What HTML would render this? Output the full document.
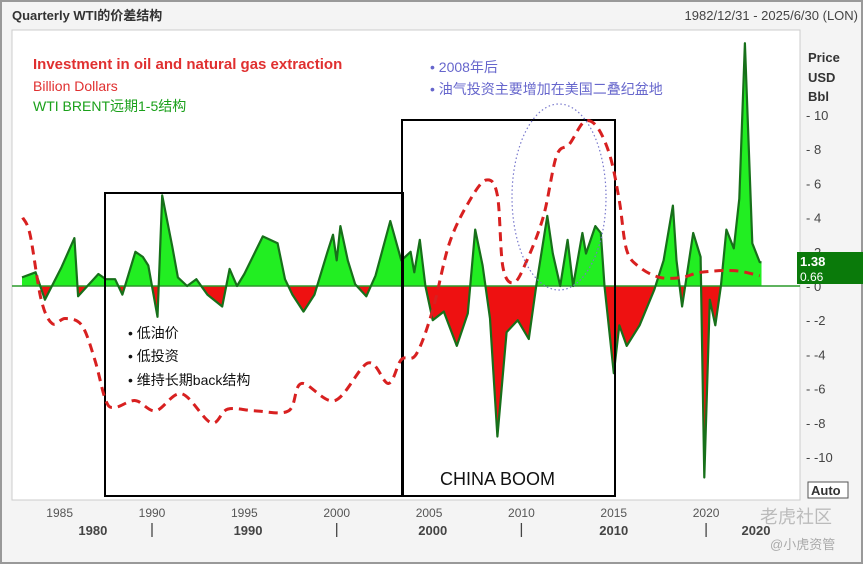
<!DOCTYPE html>
<html><head><meta charset="utf-8">
<style>
body{margin:0;background:#fff;}
svg text{font-family:"Liberation Sans","Noto Sans CJK SC",sans-serif;}
</style></head>
<body>
<svg id="chart" width="863" height="564" viewBox="0 0 863 564" xmlns="http://www.w3.org/2000/svg">
<rect x="0" y="0" width="863" height="564" fill="#f4f4f4"/>
<rect x="1" y="1" width="861" height="562" fill="none" stroke="#999" stroke-width="2"/>
<text x="12" y="20" font-size="13" font-weight="bold" fill="#333">Quarterly WTI的价差结构</text>
<text x="858" y="20" font-size="13" fill="#444" text-anchor="end">1982/12/31 - 2025/6/30 (LON)</text>
<rect x="12" y="30" width="788" height="470" fill="#fff" stroke="#ccc"/>
<g id="marks"></g>
<text x="33" y="69" font-size="15" font-weight="bold" fill="#e03030">Investment in oil and natural gas extraction</text>
<text x="33" y="91" font-size="14" fill="#e03030">Billion Dollars</text>
<text x="33" y="111" font-size="14" fill="#1aa01a">WTI BRENT远期1-5结构</text>
<text x="430" y="72" font-size="14" fill="#6666cc">•   2008年后</text>
<text x="430" y="94" font-size="14" fill="#6666cc">•   油气投资主要增加在美国二叠纪盆地</text>
<text x="128" y="338" font-size="14" fill="#111">•    低油价</text>
<text x="128" y="361" font-size="14" fill="#111">•    低投资</text>
<text x="128" y="385" font-size="14" fill="#111">•    维持长期back结构</text>
<text x="440" y="485" font-size="18" fill="#111">CHINA BOOM</text>
<text x="808" y="62" font-size="13" font-weight="bold" fill="#333">Price</text>
<text x="808" y="82" font-size="13" font-weight="bold" fill="#333">USD</text>
<text x="808" y="101" font-size="13" font-weight="bold" fill="#333">Bbl</text>
<g id="yaxis"></g>
<g id="xaxis"></g>
<rect x="797" y="252" width="66" height="32" fill="#0a7a0a"/>
<text x="800" y="266" font-size="13" font-weight="bold" fill="#fff">1.38</text>
<text x="800" y="281" font-size="12" fill="#fff">0.66</text>
<rect x="808" y="482" width="40" height="16" fill="#fff" stroke="#555"/>
<text x="811" y="495" font-size="13" font-weight="bold" fill="#333">Auto</text>
<text x="760" y="523" font-size="18" fill="#bbb">老虎社区</text>
<text x="770" y="549" font-size="13" fill="#aaa">@小虎资管</text>
</svg>
<script>
const spreadYears=[1982.96,1983.7,1984.2,1985.1,1985.8,1986.0,1986.5,1987.1,1987.5,1988.0,1988.4,1989.1,1989.5,1989.8,1990.3,1990.55,1991.1,1991.4,1991.9,1992.4,1993.0,1993.8,1994.2,1994.6,1995.0,1996.0,1996.8,1997.2,1997.6,1998.2,1998.8,1999.5,1999.8,2000.0,2000.2,2000.6,2001.0,2001.6,2002.1,2002.9,2003.5,2004.0,2004.2,2004.5,2004.8,2005.2,2005.8,2006.5,2007.1,2007.5,2007.9,2008.3,2008.7,2009.2,2009.8,2010.4,2010.8,2011.4,2011.7,2012.1,2012.5,2012.8,2013.3,2013.5,2014.0,2014.3,2014.5,2015.0,2015.3,2015.7,2016.4,2017.2,2017.7,2018.2,2018.4,2018.7,2019.3,2019.7,2019.9,2020.2,2020.5,2020.8,2021.1,2021.5,2021.8,2022.1,2022.5,2022.9,2023.0];
const spreadValues=[0.5,0.8,-0.8,1.1,2.8,-0.6,0,0.7,0.4,0.4,-0.5,2.0,1.7,1.2,-1.8,5.3,2.3,0.5,0,0.4,-0.5,-1.2,1.0,0,0.7,2.9,2.5,0.4,-0.5,-1.5,-0.5,2.0,3.0,1.5,3.5,1.5,0.1,-0.6,0.6,3.8,1.5,2.0,0.8,2.7,0,-2.0,-1.5,-3.5,-1.6,3.3,1.2,-1.9,-8.8,-2.7,-2.0,-3.1,0,4.1,1.9,0,2.7,0,3.1,1.9,3.5,3.1,0,-5.1,-2.3,-3.5,-2.3,-0.2,1.5,4.7,1.5,-1.2,3.1,1.7,-11.2,-0.8,-2.3,0,3.3,2.2,5.1,14.2,2.5,1.4,1.38];
const investYears=[1983.0,1983.4,1984.0,1984.6,1985.3,1986.2,1986.9,1987.5,1988.0,1989.1,1990.2,1991.6,1993.2,1994.1,1995.6,1997.4,1998.1,1999.9,2001.7,2002.8,2003.5,2004.3,2005.2,2006.1,2007.2,2008.1,2008.7,2009.0,2009.6,2010.3,2011.2,2011.9,2012.6,2013.4,2014.1,2014.8,2015.3,2015.7,2016.4,2017.5,2018.7,2019.7,2021.5,2022.9];
const investValues=[4.0,3.0,-0.8,-2.2,-1.9,-2.3,-4.3,-6.7,-7.1,-6.7,-7.3,-6.3,-8.0,-7.2,-7.3,-7.3,-5.7,-6.7,-4.5,-5.7,-4.3,-4.0,-1.4,2.5,5.0,6.2,5.3,1.1,0.2,1.5,4.1,7.6,8.3,9.6,9.3,7.6,5.0,2.1,1.1,0.5,0.5,0.8,0.9,0.6];
const yTicks=[10,8,6,4,2,0,-2,-4,-6,-8,-10];
const xTickYears=[1985,1990,1995,2000,2005,2010,2015,2020];
const decadeLabels=["1980","1990","2000","2010","2020"];
const decadeCenters=[1986.8,1995.2,2005.2,2015.0,2022.7];
const decadeDividers=[1990,2000,2010,2020];

const NS="http://www.w3.org/2000/svg";
const X=yr=>152+(yr-1990)*18.47;
const Y=v=>286-v*17.1;
function mk(tag,attrs,parent){const e=document.createElementNS(NS,tag);for(const k in attrs)e.setAttribute(k,attrs[k]);parent.appendChild(e);return e;}
const marks=document.getElementById('marks');
const defs=mk('defs',{},marks);
const cpA=mk('clipPath',{id:'above'},defs);mk('rect',{x:12,y:30,width:788,height:Y(0)-30},cpA);
const cpB=mk('clipPath',{id:'below'},defs);mk('rect',{x:12,y:Y(0),width:788,height:500-Y(0)},cpB);
let pts=spreadYears.map((yr,i)=>X(yr).toFixed(1)+','+Y(spreadValues[i]).toFixed(1));
const areaD='M'+X(spreadYears[0])+','+Y(0)+' L'+pts.join(' L')+' L'+X(spreadYears[spreadYears.length-1])+','+Y(0)+'Z';
const ag=mk('path',{d:areaD,fill:'#22ee22','clip-path':'url(#above)'},marks);


const ar=mk('path',{d:areaD,fill:'#ee1111','clip-path':'url(#below)'},marks);


const zl=mk('line',{x1:12,x2:800,y1:Y(0),y2:Y(0),stroke:'#2a9a2a','stroke-width':1.5},marks);


const sl=mk('polyline',{points:pts.join(' '),fill:'none',stroke:'#17701a','stroke-width':2.2,'stroke-linejoin':'round'},marks);


const b1=mk('rect',{x:105,y:193,width:298,height:303,fill:'none',stroke:'#000','stroke-width':2},marks);


const b2=mk('rect',{x:402,y:120,width:213,height:376,fill:'none',stroke:'#000','stroke-width':2},marks);


let ipts=investYears.map((yr,i)=>[X(yr),Y(investValues[i])]);
let d='M'+ipts[0][0]+','+ipts[0][1];
for(let i=1;i<ipts.length;i++){const p0=ipts[i-2]||ipts[i-1],p1=ipts[i-1],p2=ipts[i],p3=ipts[i+1]||p2;
d+=' C'+(p1[0]+(p2[0]-p0[0])/6)+','+(p1[1]+(p2[1]-p0[1])/6)+' '+(p2[0]-(p3[0]-p1[0])/6)+','+(p2[1]-(p3[1]-p1[1])/6)+' '+p2[0]+','+p2[1];}
const il=mk('path',{d:d,fill:'none',stroke:'#d82020','stroke-width':3,'stroke-dasharray':'9,6'},marks);


const el=mk('ellipse',{cx:559,cy:197,rx:47,ry:93,fill:'none',stroke:'#7777cc','stroke-width':1.2,'stroke-dasharray':'1.5,2.5'},marks);


const ya=document.getElementById('yaxis');
yTicks.forEach(v=>{const t=mk('text',{x:806,y:Y(v)+5,'font-size':13,fill:'#444'},ya);t.textContent='- '+v;

});
const xa=document.getElementById('xaxis');
xTickYears.forEach(yr=>{const t=mk('text',{x:X(yr),y:517,'font-size':12,fill:'#555','text-anchor':'middle'},xa);t.textContent=yr;

});
decadeLabels.forEach((lab,i)=>{const t=mk('text',{x:X(decadeCenters[i]),y:535,'font-size':13,'font-weight':'bold',fill:'#444','text-anchor':'middle'},xa);t.textContent=lab;

});
decadeDividers.forEach(yr=>{const l=mk('line',{x1:X(yr),x2:X(yr),y1:523,y2:537,stroke:'#444','stroke-width':1.3},xa);

});
</script>
</body></html>
